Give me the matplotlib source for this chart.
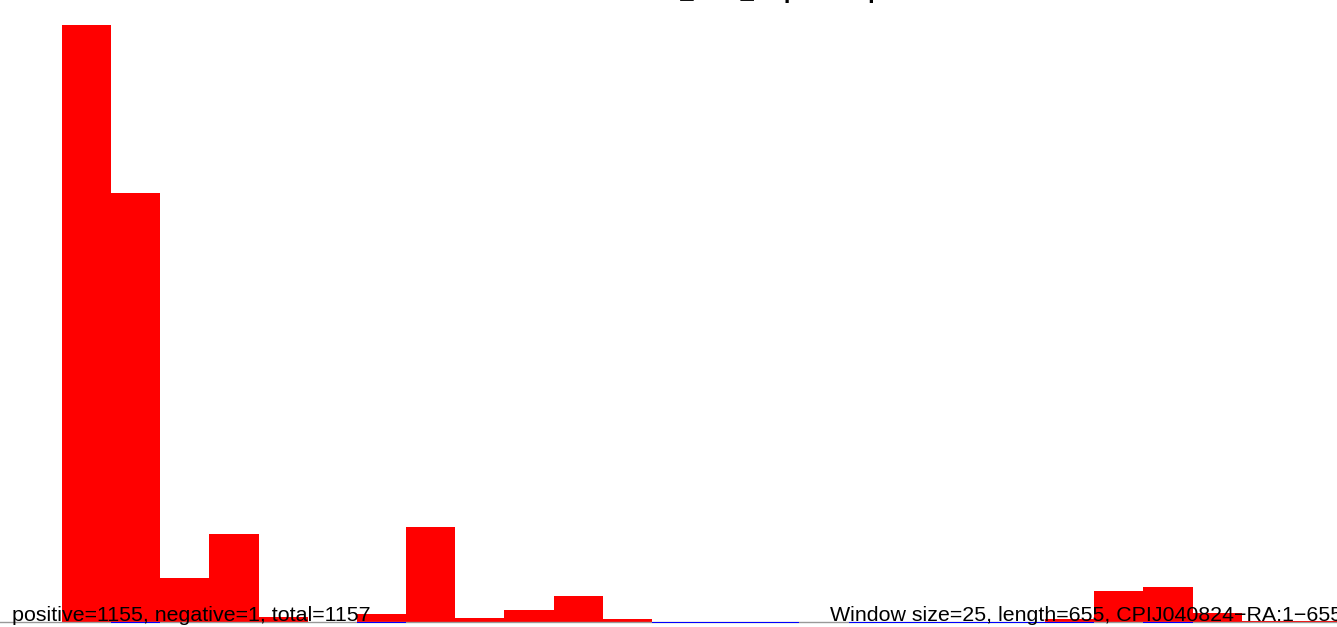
import numpy as np
import matplotlib
matplotlib.use("Agg")
import matplotlib.pyplot as plt

plt.rcParams["font.family"] = ["Liberation Sans", "DejaVu Sans"]

WINDOW = 25
LENGTH = 655

# window start positions (residues) and values per window
win_start = np.arange(0, 26 * WINDOW, WINDOW)
pos_vals = [497, 357, 37, 73, 4, 0, 7, 79, 3, 10, 22, 2.5, 0, 0, 0, 0,
            0, 0, 0, 0, 2.5, 26, 29, 7.5, 1.2, 1.2]
neg_vals = [0, -0.8, 0, 0, 0, 0, -0.8, 0, 0, 0, 0, 0, -0.8, -0.8, -0.8, 0,
            -0.8, -0.8, -0.8, -0.8, -0.8, 0, -0.8, 0, 0, 0]

left_label = "positive=1155, negative=1, total=1157"
right_label = "Window size=25, length=655, CPIJ040824\u2212RA:1\u2212655"
title = "CPIJ040824_RA1_Nepatomap"

fig = plt.figure(figsize=(13.37, 6.27), dpi=100)
ax = fig.add_axes([0, 0, 1, 1])
ax.axis("off")

ax.bar(win_start, pos_vals, width=WINDOW, align="edge", color="red", linewidth=0)
ax.axhline(0, color="#999999", linewidth=1.0, zorder=2)
ax.bar(win_start, neg_vals, width=WINDOW, align="edge", color="blue", linewidth=0, zorder=3)

ax.set_xlim(-31.5, 648.4)
ax.set_ylim(-4.2, 518)

ax.text(0.009, 0.009, left_label, transform=ax.transAxes, fontsize=15.4,
        ha="left", va="baseline", zorder=5)
ax.text(0.621, 0.009, right_label, transform=ax.transAxes, fontsize=15.4,
        ha="left", va="baseline", zorder=5)
fig.text(0.535, 1 + 2.5 / 627, title, fontsize=17, fontweight="bold",
         ha="center", va="baseline")

fig.savefig("out.png", dpi=100)
